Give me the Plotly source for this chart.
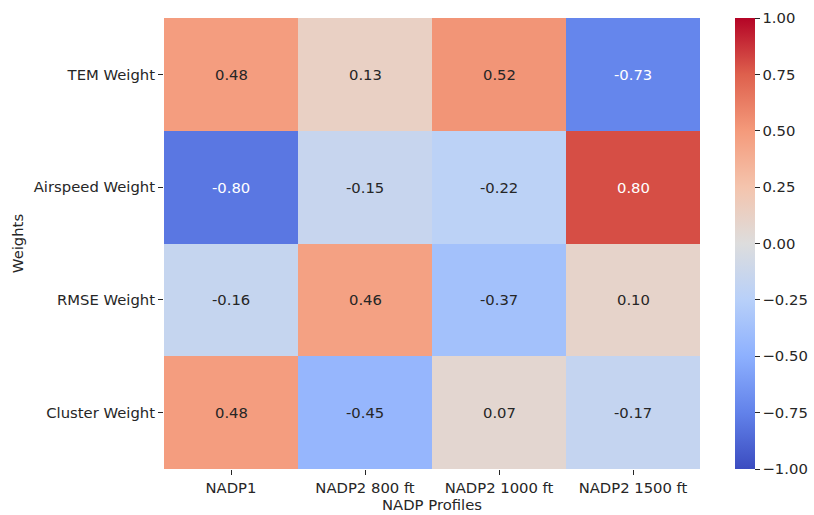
import plotly.graph_objects as go

profiles = ["NADP1", "NADP2 800 ft", "NADP2 1000 ft", "NADP2 1500 ft"]
weights = ["TEM Weight", "Airspeed Weight", "RMSE Weight", "Cluster Weight"]
values = [
    [0.48, 0.13, 0.52, -0.73],
    [-0.80, -0.15, -0.22, 0.80],
    [-0.16, 0.46, -0.37, 0.10],
    [0.48, -0.45, 0.07, -0.17],
]

coolwarm = [
    [0.0, "rgb(59,76,192)"],
    [0.125, "rgb(98,130,234)"],
    [0.25, "rgb(141,176,254)"],
    [0.375, "rgb(184,208,249)"],
    [0.5, "rgb(221,221,221)"],
    [0.625, "rgb(244,196,173)"],
    [0.75, "rgb(244,154,123)"],
    [0.875, "rgb(222,96,77)"],
    [1.0, "rgb(180,4,38)"],
]

font = "DejaVu Sans, sans-serif"
fs = 14.8
fig = go.Figure(go.Heatmap(
    z=values, x=profiles, y=weights, zmin=-1, zmax=1,
    colorscale=coolwarm, xgap=0, ygap=0,
    colorbar=dict(
        thickness=20, len=1.0, lenmode="fraction", y=0.5, yanchor="middle",
        ypad=0, xpad=0,
        x=1.0653, xanchor="left", outlinewidth=0,
        tickvals=[-1, -0.75, -0.5, -0.25, 0, 0.25, 0.5, 0.75, 1],
        tickformat=".2f", ticks="outside", ticklen=5, tickcolor="#262626",
        tickfont=dict(family=font, size=fs, color="#262626"),
    ),
    hoverinfo="skip",
))

annotations = []
for i, w in enumerate(weights):
    for j, p in enumerate(profiles):
        v = values[i][j]
        col = "white" if abs(v) >= 0.6 else "#262626"
        annotations.append(dict(x=p, y=w, text=f"{v:.2f}", showarrow=False,
                                font=dict(family=font, size=fs, color=col)))

fig.update_layout(
    width=814, height=515,
    margin=dict(l=164, r=114, t=18, b=46, autoexpand=False),
    paper_bgcolor="white", plot_bgcolor="white",
    annotations=annotations,
    font=dict(family=font, size=fs, color="#262626"),
    xaxis=dict(title=dict(text="NADP Profiles", font=dict(size=fs), standoff=4),
               ticks="outside", ticklen=5, tickcolor="#262626", showgrid=False,
               tickfont=dict(size=fs)),
    yaxis=dict(title=dict(text="Weights", font=dict(size=fs), standoff=6),
               autorange="reversed",
               ticks="outside", ticklen=5, tickcolor="#262626", showgrid=False,
               tickfont=dict(size=fs)),
)

fig.write_html("out.html")
